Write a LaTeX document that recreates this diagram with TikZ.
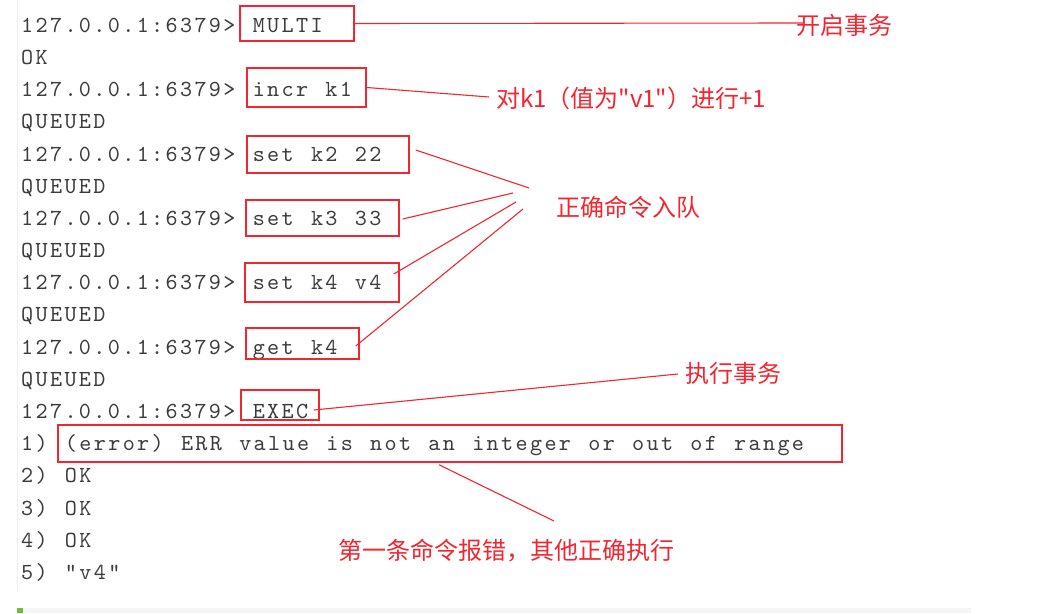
\documentclass[tikz,border=0pt]{standalone}
\usepackage{fontspec}
\usetikzlibrary{calc}
\newfontfamily\termfont{lmmono10-regular}[Extension=.otf,LetterSpace=10.3,WordSpace=1.197,Ligatures=TeXOff]
\newfontfamily\notefont{Noto Sans CJK SC}[Ligatures=TeXOff]
\definecolor{notered}{RGB}{242,38,48}
\definecolor{termgray}{RGB}{60,60,60}
\definecolor{bargreen}{RGB}{103,194,58}
\begin{document}
\frenchspacing
\begin{tikzpicture}[x=1pt,y=-1pt,
  termline/.style={anchor=base west,inner sep=0,text=termgray,font=\termfont\fontsize{23pt}{23pt}\selectfont},
  cmdbox/.style={draw=notered,line width=1.5pt,inner sep=0},
  note/.style={anchor=west,inner sep=0,text=notered,font=\notefont\fontsize{24pt}{24pt}\selectfont},
  pointer/.style={notered,line width=1.1pt}]
\fill[white] (0,0) rectangle (1059,613);
\useasboundingbox (0,0) rectangle (1059,613);

\draw[gray!12,line width=1pt] (17.5,0) -- (17.5,592);
\fill[gray!7] (17,608) rectangle (971,613);
\fill[bargreen] (17,608) rectangle (23,613);

\foreach \i/\t in {0/{127.0.0.1:6379> MULTI},1/OK,2/{127.0.0.1:6379> incr k1},3/QUEUED,
  4/{127.0.0.1:6379> set k2 22},5/QUEUED,6/{127.0.0.1:6379> set k3 33},7/QUEUED,
  8/{127.0.0.1:6379> set k4 v4},9/QUEUED,10/{127.0.0.1:6379> get k4},11/QUEUED,
  12/{127.0.0.1:6379> EXEC},13/{1) (error) ERR value is not an integer or out of range},
  14/{2) OK},15/{3) OK},16/{4) OK},17/{5) "v4"}}{
\node[termline] (t\i) at (21,{32.3+32.18*\i}) {\t};}

\foreach \n/\x/\y/\w/\h in {bmulti/297/23.5/114/35,bincr/306.5/87.5/119/39,bk2/328/154.5/162/37,
  bk3/322.5/218/153/36,bk4/322/282.5/154/39,bget/302.5/343.5/113/31,bexec/280/405/78/30,
  berr/450/443.5/784/37}{
\node[cmdbox,minimum width=\w pt,minimum height=\h pt] (\n) at (\x,\y) {};}

\node[note] (lmulti) at (796,25) {开启事务};
\node[note] (lincr) at (496,98) {对k1（值为"v1"）进行+1};
\node[note] (lqueue) at (556,207) {正确命令入队};
\node[note] (lexec) at (685,373) {执行事务};
\node[note] (lerr) at (338,551) {第一条命令报错，其他正确执行};

\draw[pointer] (bmulti.east) -- ($(lmulti.west)+(7,-2)$);
\draw[pointer] (bincr.east) -- ($(lincr.west)+(-7,-1)$);
\draw[pointer] ($(bk2.east)+(6,-4.5)$) -- ($(lqueue.west)+(-27,-19)$);
\draw[pointer] ($(bk3.east)+(3,1)$) -- ($(lqueue.west)+(-43,-14)$);
\draw[pointer] ($(bk4.east)+(-6,-8.5)$) -- ($(lqueue.west)+(-40,-5)$);
\draw[pointer] ($(bget.east)+(-4,2.5)$) -- ($(lqueue.west)+(-33,2)$);
\draw[pointer] ($(bexec.east)+(-6,5)$) -- ($(lexec.west)+(-7,1)$);
\draw[pointer] ($(berr.south)+(-11,2)$) -- ($(lerr.west)+(216,-30)$);

\end{tikzpicture}
\end{document}
